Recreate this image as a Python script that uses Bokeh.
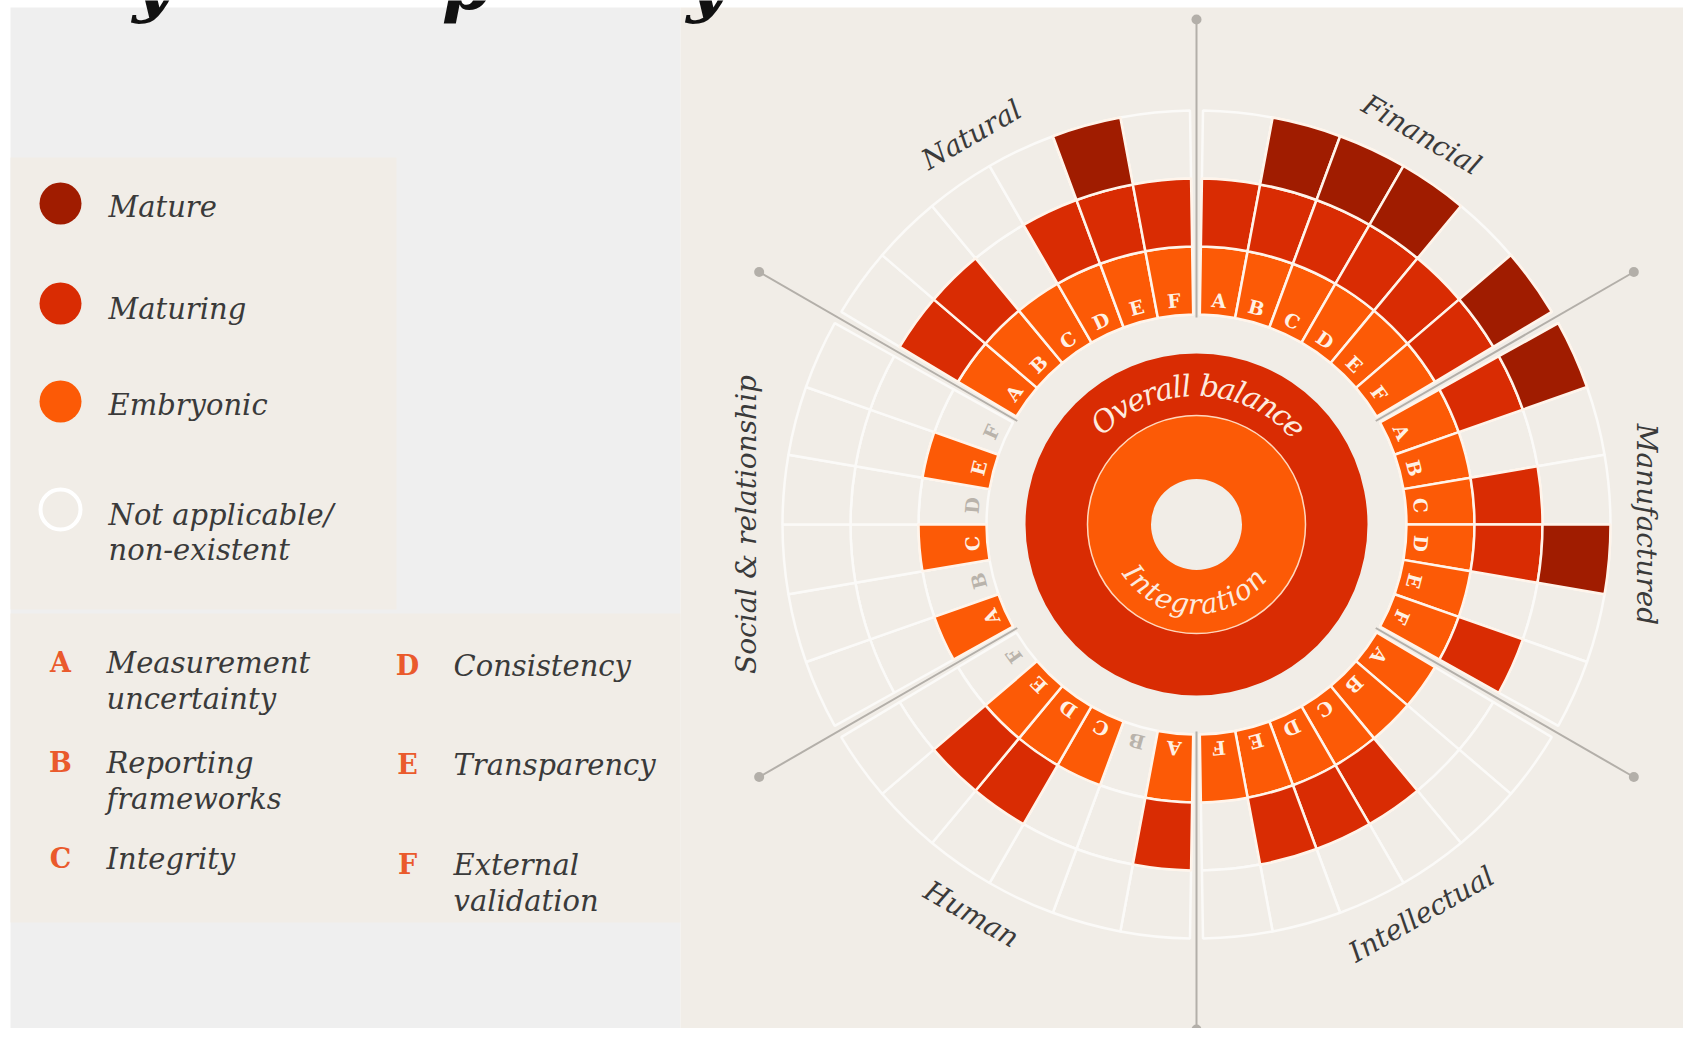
import math
from bokeh.plotting import figure
from bokeh.models import Range1d
from bokeh.core.properties import value
from bokeh.embed import file_html
from bokeh.resources import INLINE

# ---------------- data ----------------
capitals = ["Financial", "Manufactured", "Intellectual", "Human", "Social & relationship", "Natural"]
elements = ["A", "B", "C", "D", "E", "F"]
element_names = [["Measurement", "uncertainty"], ["Reporting", "frameworks"], ["Integrity"],
                 ["Consistency"], ["Transparency"], ["External", "validation"]]
maturity_levels = ["Mature", "Maturing", "Embryonic"]
# 0 = not applicable, 1 = embryonic, 2 = maturing, 3 = mature  (elements A..F)
financial = [2, 3, 3, 3, 2, 3]
manufactured = [3, 1, 2, 3, 1, 2]
intellectual = [1, 1, 2, 2, 2, 1]
human = [2, 0, 1, 2, 2, 0]
social_relationship = [1, 0, 1, 0, 1, 0]
natural = [2, 2, 1, 2, 3, 2]
center_labels = ["Overall balance", "Integration"]
center_levels = [2, 1]
title_fragments = ["y", "p", "y"]

capital_levels = [financial, manufactured, intellectual, human, social_relationship, natural]

# ---------------- style ----------------
COL = {1: "#fc5a06", 2: "#d92c03", 3: "#a01c00"}
BEIGE = "#f1ede7"
GRAY_PANEL = "#efefef"
GRID = "#fbfaf8"
CELL_LINE = "#fff4ea"
TXT = "#3a3a3a"
LINE_GRAY = "#b3afa9"
FONT = value("DejaVu Serif")

H_IMG = 1044
def Y(y):
    return H_IMG - y

p = figure(width=1683, height=1028, x_range=Range1d(0, 1683), y_range=Range1d(16, 1044),
           output_backend="svg", toolbar_location=None, x_axis_location=None,
           y_axis_location=None, min_border=0)
p.grid.visible = False
p.outline_line_color = None
p.background_fill_color = "white"
p.border_fill_color = "white"

# panels
p.quad(left=[10], right=[680], top=[Y(7)], bottom=[Y(1044)], fill_color=GRAY_PANEL, line_color=None)
p.quad(left=[680], right=[1699], top=[Y(7)], bottom=[Y(1044)], fill_color=BEIGE, line_color=None)
p.quad(left=[10], right=[396], top=[Y(157)], bottom=[Y(609)], fill_color=BEIGE, line_color=None)
p.quad(left=[10], right=[680], top=[Y(613)], bottom=[Y(922)], fill_color=BEIGE, line_color=None)

# clipped title descenders (title itself lies above the picture)
p.text(x=[152, 466, 706], y=[Y(-16)] * 3, text=title_fragments, text_font=FONT,
       text_font_style="bold italic", text_font_size="70px", text_color="#111111",
       text_align="center", text_baseline="alphabetic")

# ---------------- radial chart ----------------
cx, cy = 1196, Y(524)
R0, RW = 210, 68
pad = 0.9
w = (60 - 2 * pad) / 6.0

g_in, g_out, g_s, g_e = [], [], [], []
c_in, c_out, c_s, c_e, c_col = [], [], [], [], []
lx, ly, lt, la, lc = [], [], [], [], []
for k, lev in enumerate(capital_levels):
    for j, v in enumerate(lev):
        hi = 90 - 60 * k - pad - j * w
        lo = hi - w
        for r in range(3):
            ri = R0 + r * RW
            g_in.append(ri); g_out.append(ri + RW)
            g_s.append(math.radians(lo)); g_e.append(math.radians(hi))
            if v > r:
                c_in.append(ri); c_out.append(ri + RW)
                c_s.append(math.radians(lo)); c_e.append(math.radians(hi))
                c_col.append(COL[r + 1])
        mid = math.radians((lo + hi) / 2)
        rl = 225
        lx.append(cx + rl * math.cos(mid)); ly.append(cy + rl * math.sin(mid))
        lt.append(elements[j]); la.append(mid - math.pi / 2)
        lc.append("#fff1e4" if v > 0 else "#b9b3ab")

p.annular_wedge(x=cx, y=cy, inner_radius=g_in, outer_radius=g_out, start_angle=g_s, end_angle=g_e,
                fill_color=BEIGE, line_color=GRID, line_width=2.5)
p.annular_wedge(x=cx, y=cy, inner_radius=c_in, outer_radius=c_out, start_angle=c_s, end_angle=c_e,
                fill_color=c_col, line_color=CELL_LINE, line_width=2.5)
p.text(x=lx, y=ly, text=lt, angle=la, text_color=lc, text_font=FONT, text_font_style="bold",
       text_font_size="19px", text_align="center", text_baseline="middle")

# separator lines
sx0, sy0, sx1, sy1 = [], [], [], []
for k in range(6):
    a = math.radians(90 - 60 * k)
    sx0.append(cx + 207 * math.cos(a)); sy0.append(cy + 207 * math.sin(a))
    sx1.append(cx + 505 * math.cos(a)); sy1.append(cy + 505 * math.sin(a))
p.segment(x0=sx0, y0=sy0, x1=sx1, y1=sy1, line_color=LINE_GRAY, line_width=2)
p.scatter(x=sx1, y=sy1, size=10, marker="circle", fill_color=LINE_GRAY, line_color=None)

# capital labels
tx, ty, tt, ta = [], [], [], []
for k, name in enumerate(capitals):
    th = 60 - 60 * k
    th = (th + 180) % 360 - 180
    if th == -180:
        th = 180
    rot = th - 90 if th >= 0 else th + 90
    rr = 450
    tx.append(cx + rr * math.cos(math.radians(th))); ty.append(cy + rr * math.sin(math.radians(th)))
    tt.append(name); ta.append(math.radians(rot))
p.text(x=tx, y=ty, text=tt, angle=ta, text_color=TXT, text_font=FONT, text_font_style="italic",
       text_font_size="28px", text_align="center", text_baseline="middle")

# center rings
p.annulus(x=cx, y=cy, inner_radius=109, outer_radius=171, fill_color=COL[center_levels[0]], line_color=None)
p.annulus(x=cx, y=cy, inner_radius=45.5, outer_radius=109, fill_color=COL[center_levels[1]], line_color=None)
p.circle(x=cx, y=cy, radius=109, fill_color=None, line_color="#ffd7bd", line_width=1.5)

CW = {" ": 0.318, "O": 0.787, "v": 0.57, "e": 0.56, "r": 0.45, "a": 0.58, "l": 0.31, "b": 0.61,
      "n": 0.62, "c": 0.53, "I": 0.373, "t": 0.39, "g": 0.6, "i": 0.31, "o": 0.58}

def arc_text(txt, r, center_deg, size, top=True):
    widths = [CW.get(ch, 0.6) * size for ch in txt]
    total = sum(widths)
    span = total / r
    c = math.radians(center_deg)
    xs, ys, angs = [], [], []
    cum = 0.0
    for wd in widths:
        off = (cum + wd / 2) / r
        if top:
            a = c + span / 2 - off
            rot = a - math.pi / 2
        else:
            a = c - span / 2 + off
            rot = a + math.pi / 2
        xs.append(cx + r * math.cos(a)); ys.append(cy + r * math.sin(a)); angs.append(rot)
        cum += wd
    p.text(x=xs, y=ys, text=list(txt), angle=angs, text_color="#fdeadf", text_font=FONT,
           text_font_style="italic", text_font_size=f"{size}px", text_align="center",
           text_baseline="middle")

arc_text(center_labels[0], 139, 89, 30, top=True)
arc_text(center_labels[1], 80, -92, 28, top=False)

# ---------------- legend ----------------
leg_y = [203, 303, 401, 509]
leg_fill = [COL[3], COL[2], COL[1], BEIGE]
leg_line = [None, None, None, "#ffffff"]
for yy, fc, lcol in zip(leg_y, leg_fill, leg_line):
    if lcol is None:
        p.circle(x=[60], y=[Y(yy)], radius=21, fill_color=fc, line_color=None)
    else:
        p.circle(x=[60], y=[Y(yy)], radius=20, fill_color=fc, line_color=lcol, line_width=4)

leg_text = [maturity_levels[0], maturity_levels[1], maturity_levels[2], "Not applicable/", "non-existent"]
leg_text_y = [206, 308, 404, 514, 549]
p.text(x=[108] * 5, y=[Y(v) for v in leg_text_y], text=leg_text, text_color=TXT, text_font=FONT,
       text_font_style="italic", text_font_size="29px", text_align="left", text_baseline="middle")

letter_x = [60, 60, 60, 407, 407, 407]
letter_y = [662, 762, 858, 665, 764, 864]
name_x = [106, 106, 106, 453, 453, 453]
p.text(x=letter_x, y=[Y(v) for v in letter_y], text=elements, text_color="#ea5a2c", text_font=FONT,
       text_font_style="bold", text_font_size="27px", text_align="center", text_baseline="middle")
nx, ny, nt = [], [], []
for i, lines in enumerate(element_names):
    for li, s in enumerate(lines):
        nx.append(name_x[i]); ny.append(Y(letter_y[i] + 36 * li)); nt.append(s)
p.text(x=nx, y=ny, text=nt, text_color=TXT, text_font=FONT, text_font_style="italic",
       text_font_size="29px", text_align="left", text_baseline="middle")

open("out.html", "w").write(file_html(p, INLINE))
